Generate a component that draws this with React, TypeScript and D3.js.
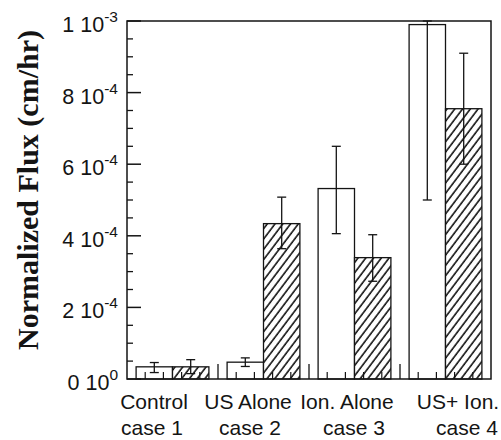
import React from "react";
import * as d3 from "d3";

// ---- data ----
const categories = ["Control", "US Alone", "Ion. Alone", "US+ Ion."];
const caseLabels = ["case 1", "case 2", "case 3", "case 4"];
const openValues = [3.4e-5, 4.7e-5, 5.32e-4, 9.9e-4];
const openErrLow = [1.8e-5, 3.5e-5, 4.06e-4, 5.0e-4];
const openErrHigh = [4.6e-5, 5.9e-5, 6.5e-4, 1.0e-3];
const hatchValues = [3.4e-5, 4.34e-4, 3.39e-4, 7.55e-4];
const hatchErrLow = [1.5e-5, 3.64e-4, 2.73e-4, 6.0e-4];
const hatchErrHigh = [5.4e-5, 5.08e-4, 4.03e-4, 9.1e-4];
const yTicks = [0, 2e-4, 4e-4, 6e-4, 8e-4, 1e-3];
const yLabel = "Normalized Flux (cm/hr)";

const W = 501;
const H = 440;
const M = { left: 127, right: 491, top: 21, bottom: 379 };
// label nudges (layout only)
const line1Offset = [-18.5, -15.5, -7.5, 12.5];
const line2Offset = [-20.5, -13.5, -0.5, 21.5];

const INK = "#141414";
const sans = "'Liberation Sans', Arial, Helvetica, sans-serif";
const serif = "'Liberation Serif', 'Times New Roman', Times, serif";

function sciParts(v: number): [string, string] {
  if (v === 0) return ["0", "0"];
  const e = Math.floor(Math.log10(v) + 1e-9);
  const m = Math.round(v / Math.pow(10, e));
  return [String(m), String(e)];
}

export default function App() {
  const x = d3.scaleBand<string>().domain(categories).range([M.left, M.right]).paddingInner(0).paddingOuter(0);
  const sub = d3.scaleBand<string>().domain(["open", "hatch"]).range([0, x.bandwidth()]).paddingInner(0).paddingOuter(0.25);
  const y = d3.scaleLinear().domain([0, 1e-3]).range([M.bottom, M.top]);

  const minorY = d3.range(0, 1e-3 + 1e-9, 0.5e-4).filter((v) => !yTicks.some((t) => Math.abs(t - v) < 1e-9));

  const bw = x.bandwidth();
  const xMinor: number[] = [];
  const xMajor: number[] = [];
  categories.forEach((c, i) => {
    const x0 = x(c)!;
    if (i > 0) xMajor.push(x0);
    for (let k = 1; k < 5; k++) xMinor.push(x0 + (bw * k) / 5);
  });

  const series = [
    { key: "open", values: openValues, lo: openErrLow, hi: openErrHigh },
    { key: "hatch", values: hatchValues, lo: hatchErrLow, hi: hatchErrHigh },
  ];

  const cap = 4.5;

  return (
    <svg width={W} height={H} style={{ position: "absolute", left: 0, top: 0, background: "#fff" }}>
      <defs>
        <pattern id="hatch" patternUnits="userSpaceOnUse" width={6.2} height={6.2} patternTransform="rotate(37)">
          <rect width={6.2} height={6.2} fill="#fff" />
          <line x1={1} y1={0} x2={1} y2={6.2} stroke={INK} strokeWidth={1.6} />
        </pattern>
      </defs>

      {/* bars */}
      {series.map((s) =>
        categories.map((c, i) => {
          const bx = x(c)! + sub(s.key)!;
          const v = s.values[i];
          return (
            <rect
              key={s.key + c}
              x={bx}
              y={y(v)}
              width={sub.bandwidth()}
              height={y(0) - y(v)}
              fill={s.key === "hatch" ? "url(#hatch)" : "#fff"}
              stroke={INK}
              strokeWidth={1.3}
            />
          );
        })
      )}

      {/* error bars */}
      {series.map((s) =>
        categories.map((c, i) => {
          const cx = x(c)! + sub(s.key)! + sub.bandwidth() / 2;
          const y1 = y(s.lo[i]);
          const y2 = y(s.hi[i]);
          return (
            <g key={"e" + s.key + c} stroke={INK} strokeWidth={1.3}>
              <line x1={cx} x2={cx} y1={y1} y2={y2} />
              <line x1={cx - cap} x2={cx + cap} y1={y1} y2={y1} />
              <line x1={cx - cap} x2={cx + cap} y1={y2} y2={y2} />
            </g>
          );
        })
      )}

      {/* frame */}
      <rect x={M.left} y={M.top} width={M.right - M.left} height={M.bottom - M.top} fill="none" stroke={INK} strokeWidth={1.5} />

      {/* y ticks */}
      {yTicks.map((t) => (
        <line key={"yt" + t} x1={M.left} x2={M.left + 14} y1={y(t)} y2={y(t)} stroke={INK} strokeWidth={1.5} />
      ))}
      {minorY.map((t) => (
        <line key={"ym" + t} x1={M.left} x2={M.left + 6} y1={y(t)} y2={y(t)} stroke={INK} strokeWidth={1.3} />
      ))}

      {/* x ticks */}
      {xMajor.map((v) => (
        <line key={"xM" + v} x1={v} x2={v} y1={M.bottom} y2={M.bottom - 15} stroke={INK} strokeWidth={1.3} />
      ))}
      {xMinor.map((v) => (
        <line key={"xm" + v} x1={v} x2={v} y1={M.bottom} y2={M.bottom - 7} stroke={INK} strokeWidth={1.2} />
      ))}

      {/* y tick labels */}
      {yTicks.map((t) => {
        const [m, e] = sciParts(t);
        return (
          <text key={"yl" + t} x={M.left - 9} y={y(t) + 11} textAnchor="end" fontFamily={sans} fontSize={21.5} fill={INK}>
            {m + " 10"}
            <tspan dy={-10} fontSize={15.5}>{e}</tspan>
          </text>
        );
      })}

      {/* x labels */}
      {categories.map((c, i) => {
        const cx = x(c)! + bw / 2;
        return (
          <g key={"xl" + c} fontFamily={sans} fontSize={21} fill={INK} textAnchor="middle">
            <text x={cx + line1Offset[i]} y={409}>{c}</text>
            <text x={cx + line2Offset[i]} y={435}>{caseLabels[i]}</text>
          </g>
        );
      })}

      {/* y axis title */}
      <text
        transform={`translate(38, 190) rotate(-90)`}
        textAnchor="middle"
        fontFamily={serif}
        fontWeight="bold"
        fontSize={30}
        fill={INK}
      >
        {yLabel}
      </text>
    </svg>
  );
}
